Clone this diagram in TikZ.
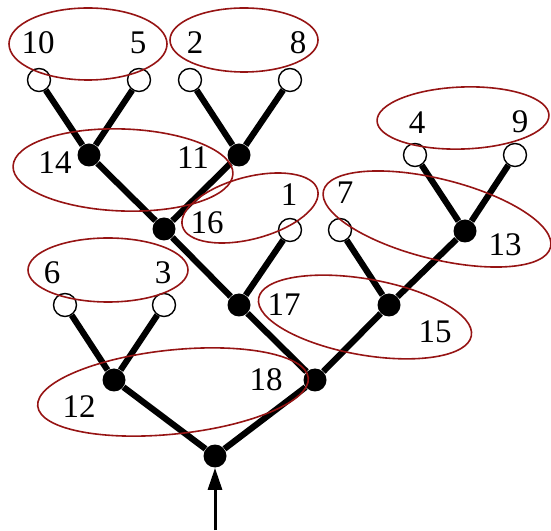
\documentclass[tikz,border=0pt]{standalone}
\usepackage{fontspec}
\setmainfont{Liberation Serif}
\usepackage{xcolor}
\usepackage{tikz}
\usetikzlibrary{arrows.meta, positioning}
\definecolor{ringred}{RGB}{150,20,20}

\begin{document}
\begin{tikzpicture}[
  x=0.5pt, y=0.5pt,
  inner/.style={circle, fill=black, minimum size=11.5pt, inner sep=0pt},
  leaf/.style={circle, draw, fill=white, line width=0.7pt,
               minimum size=11.5pt, inner sep=0pt},
  edge/.style={line width=3.1pt},
  num/.style={font=\fontsize{16.5}{18}\selectfont, inner sep=0pt},
  group/.style={draw=ringred, line width=0.8pt},
  arrow/.style={-{Triangle[length=11pt, width=7pt]}, line width=1.5pt}
]
  \useasboundingbox (0,0) rectangle (551,530);

  % --- tree nodes ---------------------------------------------------
  \node[inner] (root) at (215,74)  {};
  \node[inner] (n12)  at (114,150) {};
  \node[inner] (n18)  at (315,150) {};
  \node[leaf]  (l6)   at (65,225)  {};
  \node[leaf]  (l3)   at (164,225) {};
  \node[inner] (n17)  at (239,225) {};
  \node[inner] (n15)  at (389,225) {};
  \node[inner] (n16)  at (164,301) {};
  \node[leaf]  (l1)   at (290,300) {};
  \node[leaf]  (l7)   at (340,300) {};
  \node[inner] (n13)  at (465,299) {};
  \node[inner] (n14)  at (89,375)  {};
  \node[inner] (n11)  at (239,375) {};
  \node[leaf]  (l4)   at (415,375) {};
  \node[leaf]  (l9)   at (515,375) {};
  \node[leaf]  (l10)  at (39,450)  {};
  \node[leaf]  (l5)   at (139,450) {};
  \node[leaf]  (l2)   at (190,450) {};
  \node[leaf]  (l8)   at (290,450) {};
  \coordinate (entry) at (215,0);

  % --- edges --------------------------------------------------------
  \draw[edge] (root) -- (n12);
  \draw[edge] (root) -- (n18);
  \draw[edge] (n12) -- (l6);
  \draw[edge] (n12) -- (l3);
  \draw[edge] (n18) -- (n17);
  \draw[edge] (n18) -- (n15);
  \draw[edge] (n17) -- (n16);
  \draw[edge] (n17) -- (l1);
  \draw[edge] (n15) -- (l7);
  \draw[edge] (n15) -- (n13);
  \draw[edge] (n16) -- (n14);
  \draw[edge] (n16) -- (n11);
  \draw[edge] (n13) -- (l4);
  \draw[edge] (n13) -- (l9);
  \draw[edge] (n14) -- (l10);
  \draw[edge] (n14) -- (l5);
  \draw[edge] (n11) -- (l2);
  \draw[edge] (n11) -- (l8);
  \draw[arrow] (entry) -- (root);

  % --- numbers ------------------------------------------------------
  \node[num] (t10) at (38,487)  {10};
  \node[num] (t5)  at (138,487) {5};
  \node[num] (t2)  at (195,487) {2};
  \node[num] (t8)  at (298,487) {8};
  \node[num] (t14) at (55,367)  {14};
  \node[num] (t11) at (193,372) {11};
  \node[num] (t4)  at (417,407) {4};
  \node[num] (t9)  at (520,408) {9};
  \node[num] (t16) at (207,307) {16};
  \node[num] (t1)  at (289,335) {1};
  \node[num] (t7)  at (345,337) {7};
  \node[num] (t13) at (505,285) {13};
  \node[num] (t6)  at (52,257)  {6};
  \node[num] (t3)  at (163,257) {3};
  \node[num] (t17) at (284,225) {17};
  \node[num] (t15) at (435,198) {15};
  \node[num] (t12) at (79,123)  {12};
  \node[num] (t18) at (266,150) {18};

  % --- groups -------------------------------------------------------
  \draw[group] (88,486) ellipse [x radius=79, y radius=36];
  \draw[group] (244,490) ellipse [x radius=74, y radius=32];
  \draw[group, rotate around={-2:(123,360)}] (123,360) ellipse [x radius=110, y radius=41];
  \draw[group, rotate around={2:(463,412)}] (463,412) ellipse [x radius=86, y radius=31];
  \draw[group, rotate around={15:(250,322)}] (250,322) ellipse [x radius=70, y radius=31];
  \draw[group, rotate around={-14:(437,311)}] (437,311) ellipse [x radius=117, y radius=40];
  \draw[group] (108,260) ellipse [x radius=80, y radius=32];
  \draw[group, rotate around={-10:(365,213)}] (365,213) ellipse [x radius=108, y radius=38];
  \draw[group, rotate around={6:(173,138)}] (173,138) ellipse [x radius=136, y radius=42];
\end{tikzpicture}
\end{document}
